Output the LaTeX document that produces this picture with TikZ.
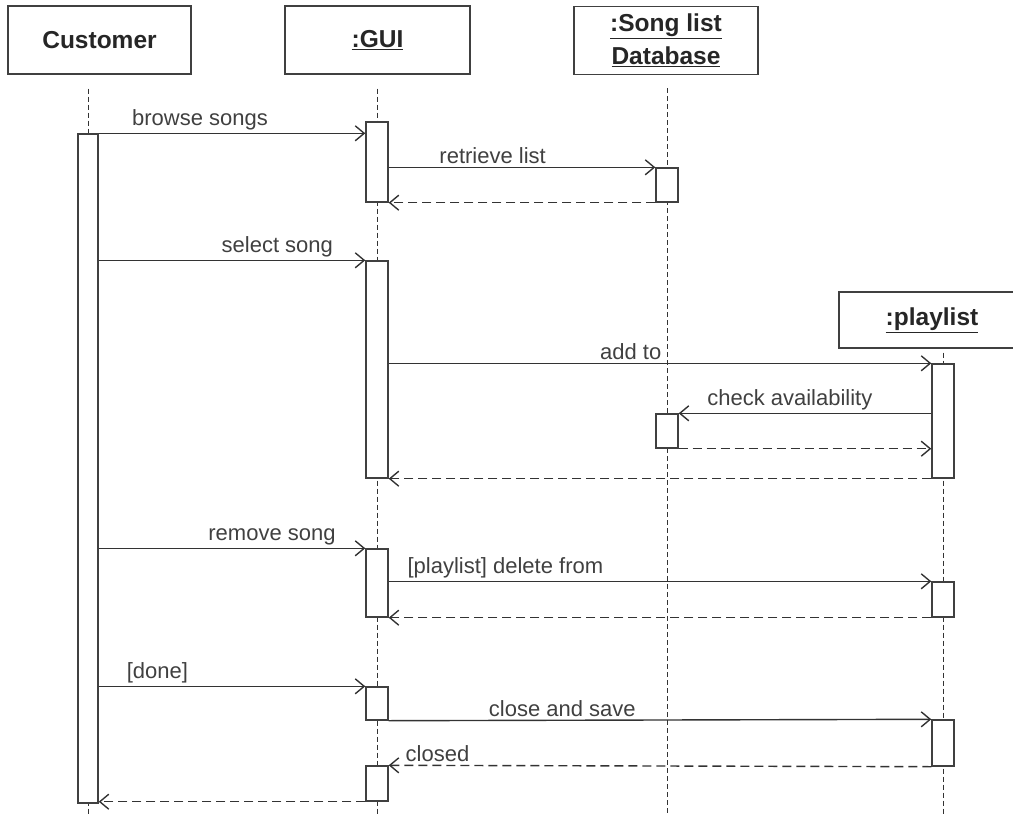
\documentclass[tikz,border=0pt]{standalone}
\usepackage{fontspec}
\setmainfont{Liberation Sans}
\usetikzlibrary{arrows.meta}
\begin{document}
\begin{tikzpicture}[x=1pt,y=-1pt,
    head/.style={draw=black!75, line width=1.4pt, fill=white, font=\fontsize{24.5}{33}\selectfont\bfseries, text=black!85, align=center, minimum height=68pt, inner sep=0pt},
    bar/.style={draw=black!75, line width=1.4pt, fill=white, minimum width=22pt, inner sep=0pt},
    lifeline/.style={black!80, line width=0.9pt, dash pattern=on 5pt off 3pt},
    msg/.style={draw=black!80, line width=1.4pt, -{Straight Barb[length=9pt,width=15pt]}},
    reply/.style={msg, dash pattern=on 9pt off 5pt},
    lbl/.style={font=\fontsize{22}{26}\selectfont, text=black!75, above, inner sep=3pt}]
    \useasboundingbox (0,0) rectangle (1013,814);
    \clip (0,0) rectangle (1013,814);
    \node[head, minimum width=183pt] (cust) at (99.5,40) {Customer};
    \node[head, minimum width=185pt] (gui) at (377.5,40) {\underline{:GUI}};
    \node[head, minimum width=184pt] (db) at (666,40.5) {\underline{:Song list}\\\underline{Database}};
    \node[head, minimum width=186pt, minimum height=56pt] (pl) at (932,320) {\underline{:playlist}};
    \coordinate (lc) at (88,814);
    \coordinate (lg) at (377,814);
    \coordinate (ld) at (667,814);
    \coordinate (lp) at (943,814);
    \draw[lifeline] ([yshift=-14pt]cust.south -| lc) -- (lc);
    \draw[lifeline] ([yshift=-14pt]gui.south -| lg) -- (lg);
    \draw[lifeline] ([yshift=-13pt]db.south -| ld) -- (ld);
    \draw[lifeline] ([yshift=-4pt]pl.south -| lp) -- (lp);
    \node[bar, minimum width=20pt, minimum height=669pt] (c1) at (88,468.5) {};
    \node[bar, minimum height=80pt] (g1) at (377,162) {};
    \node[bar, minimum height=34pt] (d1) at (667,185) {};
    \node[bar, minimum height=217pt] (g2) at (377,369.5) {};
    \node[bar, minimum height=114pt] (p1) at (943,421) {};
    \node[bar, minimum height=34pt] (d2) at (667,431) {};
    \node[bar, minimum height=68pt] (g3) at (377,583) {};
    \node[bar, minimum height=35pt] (p2) at (943,599.5) {};
    \node[bar, minimum height=33pt] (g4) at (377,703.5) {};
    \node[bar, minimum height=46pt] (p3) at (943,743) {};
    \node[bar, minimum height=35pt] (g5) at (377,783.5) {};
    \draw[msg] (c1.north east) -- node[lbl, pos=0.38] {browse songs} (c1.north east -| g1.west);
    \draw[msg] (g1.east |- d1.north west) -- node[lbl, pos=0.39] {retrieve list} (d1.north west);
    \draw[reply] (d1.south west) -- (g1.south east);
    \draw[msg] (c1.east |- g2.north west) -- node[lbl, pos=0.67] {select song} (g2.north west);
    \draw[msg] (g2.east |- p1.north west) -- node[lbl, pos=0.446] {add to} (p1.north west);
    \draw[msg] (p1.west |- d2.north east) -- node[lbl, pos=0.56] {check availability} (d2.north east);
    \draw[reply] (d2.south east) -- (p1.west |- d2.south east);
    \draw[reply] (p1.south west) -- (g2.south east);
    \draw[msg] (c1.east |- g3.north west) -- node[lbl, pos=0.65] {remove song} (g3.north west);
    \draw[msg] (g3.east |- p2.north west) -- node[lbl, pos=0.215] {[playlist] delete from} (p2.north west);
    \draw[reply] (p2.south west) -- (g3.south east);
    \draw[msg] (c1.east |- g4.north west) -- node[lbl, pos=0.22] {[done]} (g4.north west);
    \draw[msg] (g4.south east) -- node[lbl, pos=0.32] {close and save} (p3.north west);
    \draw[reply] (p3.south west) -- node[lbl, pos=0.91] {closed} (g5.north east);
    \draw[reply] (g5.south west) -- (c1.east |- g5.south west);
\end{tikzpicture}
\end{document}
